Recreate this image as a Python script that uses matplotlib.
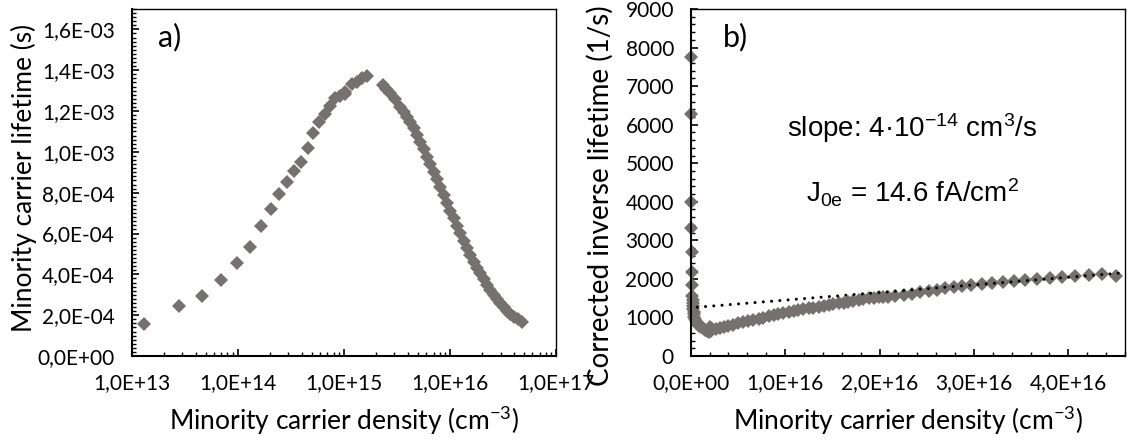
import numpy as np
import matplotlib
matplotlib.use("Agg")
from matplotlib import pyplot as plt
from matplotlib.ticker import MultipleLocator, LogLocator, FuncFormatter, NullFormatter

plt.rcParams['font.family'] = ['Lato', 'DejaVu Sans']
plt.rcParams['mathtext.default'] = 'regular'

gray = '#767171'

# panel a) lifetime vs density (log x)
dens_low = [1.31e13, 2.77e13, 4.58e13, 7.01e13, 9.84e13, 1.30e14, 1.64e14, 2.04e14,
            2.45e14, 2.90e14, 3.39e14, 3.93e14, 4.58e14, 5.14e14, 5.86e14, 6.59e14,
            7.35e14, 8.18e14, 9.18e14, 1.016e15, 1.03e15, 1.19e15, 1.32e15, 1.48e15, 1.65e15]
tau_low = [1.55e-4, 2.47e-4, 2.96e-4, 3.70e-4, 4.56e-4, 5.34e-4, 6.38e-4, 7.21e-4,
           7.94e-4, 8.50e-4, 9.04e-4, 9.52e-4, 1.017e-3, 1.091e-3, 1.145e-3, 1.188e-3,
           1.224e-3, 1.262e-3, 1.275e-3, 1.283e-3, 1.292e-3, 1.333e-3, 1.344e-3, 1.361e-3, 1.372e-3]

dens_high = [2.33e15, 2.51e15, 2.74e15, 3.02e15, 3.40e15, 3.65e15, 3.93e15, 4.22e15,
             4.54e15, 4.88e15, 5.25e15, 5.65e15, 6.07e15, 6.52e15, 7.00e15, 7.53e15,
             8.09e15, 8.71e15, 9.38e15, 1.007e16, 1.081e16, 1.164e16, 1.250e16, 1.343e16,
             1.445e16, 1.552e16, 1.671e16, 1.799e16, 1.932e16, 2.080e16, 2.234e16, 2.399e16,
             2.576e16, 2.773e16, 2.985e16, 3.206e16, 3.451e16, 3.707e16, 3.981e16, 4.365e16, 4.775e16]
tau_high = [1.328e-3, 1.310e-3, 1.287e-3, 1.258e-3, 1.221e-3, 1.197e-3, 1.172e-3, 1.145e-3,
            1.116e-3, 1.084e-3, 1.050e-3, 1.013e-3, 9.76e-4, 9.40e-4, 9.03e-4, 8.66e-4,
            8.29e-4, 7.88e-4, 7.48e-4, 7.11e-4, 6.74e-4, 6.37e-4, 6.01e-4, 5.64e-4,
            5.27e-4, 4.94e-4, 4.62e-4, 4.33e-4, 4.05e-4, 3.76e-4, 3.48e-4, 3.23e-4,
            2.99e-4, 2.78e-4, 2.58e-4, 2.40e-4, 2.22e-4, 2.07e-4, 1.93e-4, 1.80e-4, 1.68e-4]

# panel b) corrected inverse lifetime vs density (units of 1e16 cm-3)
dens_b = [0.003, 0.004, 0.006, 0.008, 0.010, 0.012, 0.015, 0.018, 0.020, 0.022,
          0.025, 0.028, 0.031, 0.035, 0.040, 0.047, 0.055, 0.065, 0.078, 0.092,
          0.11, 0.13, 0.155, 0.175, 0.19, 0.205, 0.215, 0.23, 0.27, 0.31,
          0.35, 0.40, 0.45, 0.50, 0.55, 0.61, 0.66, 0.72, 0.77, 0.83,
          0.88, 0.93, 0.98, 1.04, 1.09, 1.14, 1.19, 1.25, 1.30, 1.36,
          1.41, 1.46, 1.51, 1.57, 1.62, 1.67, 1.72, 1.78, 1.83, 1.89,
          1.94, 1.99, 2.04, 2.09, 2.167, 2.255, 2.343, 2.432, 2.52, 2.609,
          2.697, 2.785, 2.874, 2.972, 3.086, 3.192, 3.308, 3.428, 3.545, 3.669,
          3.803, 3.934, 4.075, 4.216, 4.358, 4.50]
inv_b = [7750, 6270, 3990, 3320, 2690, 2170, 1840, 1550, 1460, 1380,
         1300, 1220, 1150, 1080, 1020, 960, 910, 865, 820, 785,
         750, 720, 680, 645, 625, 760, 660, 690, 710, 735,
         760, 790, 815, 845, 873, 905, 933, 965, 995, 1025,
         1055, 1082, 1108, 1135, 1160, 1187, 1212, 1235, 1257, 1278,
         1300, 1322, 1343, 1365, 1387, 1408, 1430, 1452, 1473, 1495,
         1512, 1522, 1530, 1540, 1555, 1580, 1603, 1647, 1688, 1714,
         1751, 1777, 1803, 1836, 1862, 1888, 1922, 1948, 1974, 1992,
         2018, 2052, 2062, 2096, 2114, 2078]

fit_x = [0.07, 4.6]
fit_y = [1265, 2160]


def sci_comma(v, pos):
    return '{:.1E}'.format(v).replace('.', ',')


fig = plt.figure(figsize=(11.35, 4.43), dpi=100)
ax1 = fig.add_axes([0.116, 0.1964, 0.3739, 0.7833])
ax2 = fig.add_axes([0.6085, 0.1964, 0.3827, 0.7833])

ax1.plot(dens_low, tau_low, 'D', color=gray, ms=7.5, mew=0)
ax1.plot(dens_high, tau_high, 'D', color=gray, ms=7.5, mew=0)
ax1.set_xscale('log')
ax1.set_xlim(1e13, 1e17)
ax1.set_ylim(0, 1.7e-3)
ax1.xaxis.set_major_locator(LogLocator(base=10, numticks=10))
ax1.xaxis.set_minor_locator(LogLocator(base=10, subs=np.arange(2, 10), numticks=20))
ax1.xaxis.set_minor_formatter(NullFormatter())
ax1.xaxis.set_major_formatter(FuncFormatter(sci_comma))
ax1.yaxis.set_major_locator(MultipleLocator(2e-4))
ax1.yaxis.set_minor_locator(MultipleLocator(2e-5))
ax1.yaxis.set_major_formatter(FuncFormatter(sci_comma))
ax1.set_xlabel('Minority carrier density (cm$^{-3}$)', fontsize=19)
ax1.set_ylabel('Minority carrier lifetime (s)', fontsize=19)
ax1.xaxis.set_label_coords(0.5, -0.14)
ax1.yaxis.set_label_coords(-0.222, 0.513)
ax1.text(0.062, 0.96, 'a)', transform=ax1.transAxes, fontsize=22, va='top')

ax2.plot([v * 1e16 for v in dens_b], inv_b, 'D', color=gray, ms=7.5, mew=0, clip_on=False)
ax2.plot([v * 1e16 for v in fit_x], fit_y, color='black', lw=2.2,
         linestyle=(0, (0.01, 2.7)), dash_capstyle='round')
ax2.set_xlim(0, 4.6e16)
ax2.set_ylim(0, 9000)
ax2.xaxis.set_major_locator(MultipleLocator(1e16))
ax2.xaxis.set_minor_locator(MultipleLocator(2e15))
ax2.xaxis.set_major_formatter(FuncFormatter(sci_comma))
ax2.yaxis.set_major_locator(MultipleLocator(1000))
ax2.yaxis.set_minor_locator(MultipleLocator(200))
ax2.set_xlabel('Minority carrier density (cm$^{-3}$)', fontsize=19)
ax2.set_ylabel('Corrected inverse lifetime (1/s)', fontsize=20)
ax2.xaxis.set_label_coords(0.5, -0.14)
ax2.yaxis.set_label_coords(-0.176, 0.461)
ax2.text(0.074, 0.96, 'b)', transform=ax2.transAxes, fontsize=22, va='top')
ax2.text(0.51, 0.657, 'slope: 4\u00b710$^{-14}$ cm$^{3}$/s', transform=ax2.transAxes,
         fontsize=20, ha='center', va='center', family='Liberation Sans')
ax2.text(0.51, 0.47, 'J$_{0e}$ = 14.6 fA/cm$^{2}$', transform=ax2.transAxes,
         fontsize=20, ha='center', va='center', family='Liberation Sans')

for ax in (ax1, ax2):
    for side in ('left', 'bottom'):
        ax.spines[side].set_linewidth(1.5)
    for side in ('top', 'right'):
        ax.spines[side].set_linewidth(1.0)
    ax.tick_params(which='both', direction='in', top=False, right=False)
    ax.tick_params(which='major', length=5, width=1.2, labelsize=15, pad=12)
    ax.tick_params(which='minor', length=3, width=1.0)

fig.savefig('out.png', dpi=100)
